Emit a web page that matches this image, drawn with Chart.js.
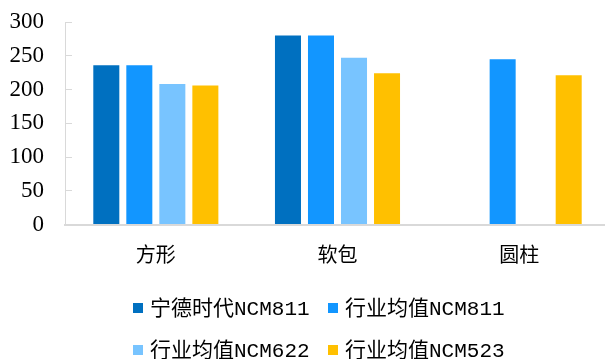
<!DOCTYPE html>
<html>
<head>
<meta charset="utf-8">
<script src="https://cdn.jsdelivr.net/npm/chart.js@4/dist/chart.umd.min.js"></script>
<style>
  html, body { margin: 0; padding: 0; background: #fff; overflow: hidden; }
  #wrap { position: relative; width: 610px; height: 359px; }
</style>
</head>
<body>
<div id="wrap"><canvas id="c"></canvas></div>
<script>
// Cell types and energy density series (Wh/kg)
const categories = ['方形', '软包', '圆柱'];
const seriesNames = ['宁德时代NCM811', '行业均值NCM811', '行业均值NCM622', '行业均值NCM523'];
const catlNcm811 = [236, 280, null];
const avgNcm811 = [236, 280, 245];
const avgNcm622 = [208, 247, null];
const avgNcm523 = [206, 224, 221];
const yTicks = [0, 50, 100, 150, 200, 250, 300];

const colors = ['#0070C0', '#1296FF', '#78C4FF', '#FFC000'];
const seriesValues = [catlNcm811, avgNcm811, avgNcm622, avgNcm523];

const CJK = '"Liberation Mono", "Noto Sans CJK SC", sans-serif';

// Two-row legend drawn under the plot
const legendRows = {
  id: 'legendRows',
  afterDraw(chart) {
    const ctx = chart.ctx;
    const cols = [133, 328];
    const rows = [308, 350];
    ctx.save();
    ctx.font = '21px ' + CJK;
    ctx.textBaseline = 'middle';
    ctx.textAlign = 'left';
    chart.data.datasets.forEach((ds, i) => {
      const x = cols[i % 2];
      const y = rows[Math.floor(i / 2)];
      ctx.fillStyle = ds.backgroundColor;
      ctx.fillRect(x, y - 5, 10, 10);
      ctx.fillStyle = '#000';
      ctx.fillText(ds.label, x + 17, y + 1);
    });
    ctx.restore();
  }
};

new Chart(document.getElementById('c'), {
  type: 'bar',
  data: {
    labels: categories,
    datasets: seriesNames.map((name, i) => ({
      label: name,
      data: seriesValues[i],
      backgroundColor: colors[i],
      borderWidth: 0,
      categoryPercentage: 0.727,
      barPercentage: 0.788
    }))
  },
  options: {
    responsive: true,
    maintainAspectRatio: false,
    animation: false,
    layout: { padding: { top: 22, right: 0, left: 0, bottom: 0 } },
    plugins: { legend: { display: false }, tooltip: { enabled: false } },
    scales: {
      x: {
        grid: { display: false, drawTicks: false },
        border: { display: true, color: '#D9D9D9', width: 2 },
        ticks: { color: '#000', font: { family: CJK, size: 20 }, padding: 20 },
        afterFit(scale) { scale.height = 134.5; }
      },
      y: {
        min: 0,
        max: 300,
        afterBuildTicks(scale) { scale.ticks = yTicks.map(v => ({ value: v })); },
        grid: { drawOnChartArea: false, drawTicks: true, tickLength: -7, color: '#D9D9D9' },
        border: { display: true, color: '#D9D9D9', width: 1 },
        ticks: { autoSkip: false, color: '#000', font: { family: '"Liberation Serif", serif', size: 23 }, padding: 28 },
        afterFit(scale) { scale.width = 65; scale.paddingTop = 0; scale.paddingBottom = 0; }
      }
    }
  },
  plugins: [legendRows]
});
</script>
</body>
</html>
